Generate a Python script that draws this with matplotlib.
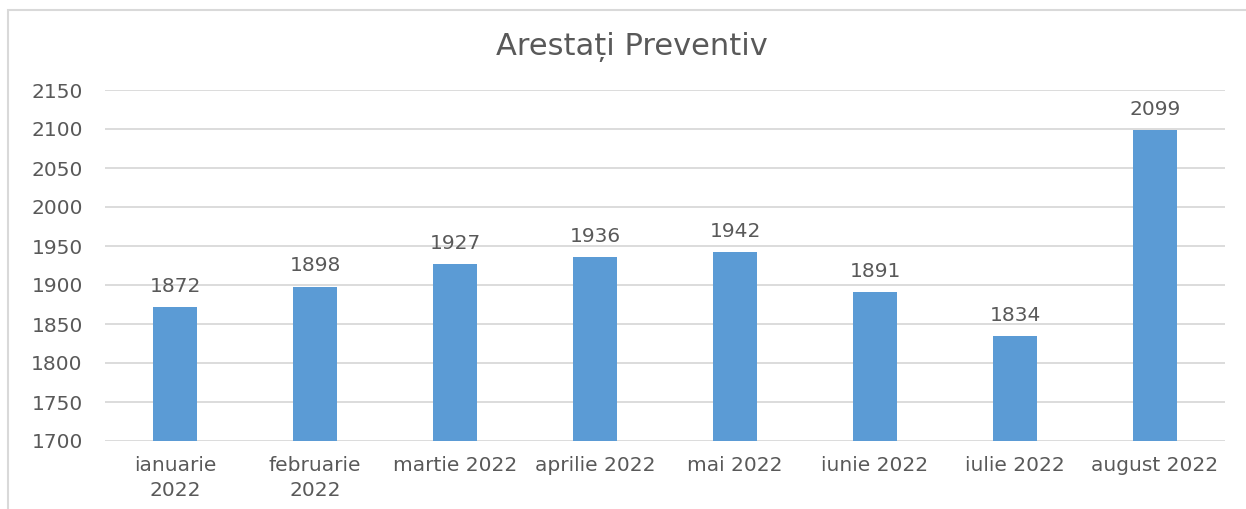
import matplotlib
matplotlib.use("Agg")
import matplotlib.pyplot as plt
from matplotlib.patches import Rectangle

categories = ["ianuarie\n2022", "februarie\n2022", "martie 2022", "aprilie 2022",
              "mai 2022", "iunie 2022", "iulie 2022", "august 2022"]
values = [1872, 1898, 1927, 1936, 1942, 1891, 1834, 2099]
yticks = [1700, 1750, 1800, 1850, 1900, 1950, 2000, 2050, 2100, 2150]
title = "Arestați Preventiv"

plt.rcParams['font.family'] = ['DejaVu Sans']
txt = "#595959"

W, H = 1246, 509
fig = plt.figure(figsize=(W / 100, H / 100), dpi=100)
fig.patches.append(Rectangle((8 / W, -0.2), 1.2, 1.2 - 10 / H, transform=fig.transFigure,
                             fill=False, edgecolor="#d9d9d9", linewidth=1.5))
ax = fig.add_axes([105 / W, 1 - 441 / H, 1120 / W, 351 / H])
x = range(len(categories))
ax.bar(x, values, width=0.32, color="#5b9bd5", zorder=3)
ax.set_ylim(1700, 2150)
ax.set_xlim(-0.5, len(categories) - 0.5)
ax.set_yticks(yticks)
ax.set_xticks(list(x))
ax.set_xticklabels(categories, color=txt, fontsize=14.5, linespacing=1.35)
ax.tick_params(axis='y', colors=txt, labelsize=14.5, length=0, pad=16)
ax.tick_params(axis='x', length=0, pad=11)
ax.grid(axis='y', color="#d9d9d9", linewidth=1.3, zorder=0)
for s in ax.spines.values():
    s.set_visible(False)
for xi, v in zip(x, values):
    ax.annotate(str(v), (xi, v), xytext=(0, 8), textcoords="offset points",
                ha="center", va="bottom", color=txt, fontsize=14.5)
fig.text(632 / W, 1 - 47 / H, title, ha="center", va="center", color=txt, fontsize=22)
fig.savefig("out.png", dpi=100)
